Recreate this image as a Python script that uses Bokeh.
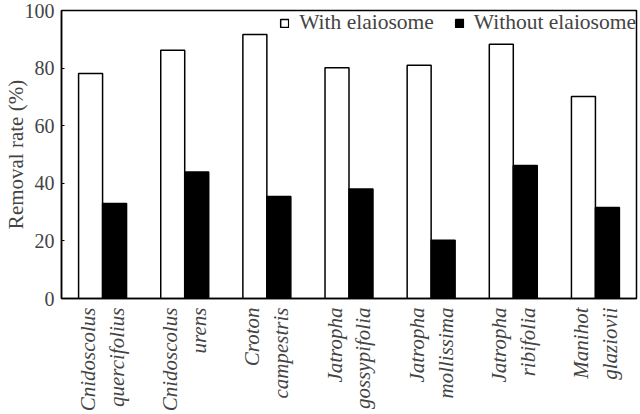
import math
from bokeh.plotting import figure
from bokeh.models import Range1d, FactorRange, FixedTicker, Legend, LegendItem, ColumnDataSource
from bokeh.transform import dodge
from bokeh.embed import file_html
from bokeh.resources import INLINE

categories = ["Cnidoscolus\nquercifolius", "Cnidoscolus\nurens", "Croton\ncampestris",
              "Jatropha\ngossypifolia", "Jatropha\nmollissima", "Jatropha\nribifolia",
              "Manihot\nglaziovii"]
with_elaiosome = [78.1, 86.2, 91.7, 80.1, 81.0, 88.3, 70.1]
without_elaiosome = [33.0, 43.9, 35.4, 38.0, 20.2, 46.2, 31.6]
y_ticks = [0, 20, 40, 60, 80, 100]

src = ColumnDataSource(dict(cat=categories, w=with_elaiosome, wo=without_elaiosome))

FONT = "serif"

p = figure(width=640, height=414, output_backend="svg", toolbar_location=None,
           x_range=FactorRange(*categories, range_padding=0), y_range=Range1d(0, 100),
           min_border_top=10, min_border_right=4, min_border_left=0, min_border_bottom=0)

r1 = p.vbar(x=dodge("cat", -0.146, range=p.x_range), top="w", width=0.292, source=src,
            fill_color="white", line_color="black", line_width=1.5)
r2 = p.vbar(x=dodge("cat", 0.146, range=p.x_range), top="wo", width=0.292, source=src,
            fill_color="black", line_color="black", line_width=1.5)

p.xgrid.visible = False
p.ygrid.visible = False
p.outline_line_color = "black"
p.outline_line_width = 1.5
p.background_fill_color = "white"
p.border_fill_color = "white"

ya = p.yaxis[0]
ya.ticker = FixedTicker(ticks=y_ticks)
ya.axis_label = "Removal rate (%)"
ya.axis_label_text_font = FONT
ya.axis_label_text_font_style = "normal"
ya.axis_label_text_font_size = "21px"
ya.axis_label_standoff = -6
ya.major_label_text_font = FONT
ya.major_label_text_font_size = "20px"
ya.major_label_standoff = 7
ya.major_tick_in = 3
ya.major_tick_out = 0
ya.major_tick_line_width = 1
ya.minor_tick_line_color = None
ya.axis_line_width = 1.5

xa = p.xaxis[0]
xa.major_label_orientation = math.pi / 2
xa.major_label_text_font = FONT
xa.major_label_text_font_style = "italic"
xa.major_label_text_font_size = "21px"
xa.major_label_standoff = 9
xa.major_tick_line_color = None
xa.major_tick_out = 0
xa.major_tick_in = 0
xa.axis_line_width = 1.5

legend = Legend(items=[LegendItem(label="With elaiosome", renderers=[r1]),
                       LegendItem(label="Without elaiosome", renderers=[r2])],
                orientation="horizontal", location="top_right",
                label_text_font=FONT, label_text_font_size="21.5px", label_height=22,
                glyph_width=10, glyph_height=10, spacing=20, label_standoff=10,
                border_line_color=None, background_fill_alpha=0,
                padding=1, margin=0)
p.add_layout(legend)

open("out.html", "w").write(file_html(p, INLINE))
